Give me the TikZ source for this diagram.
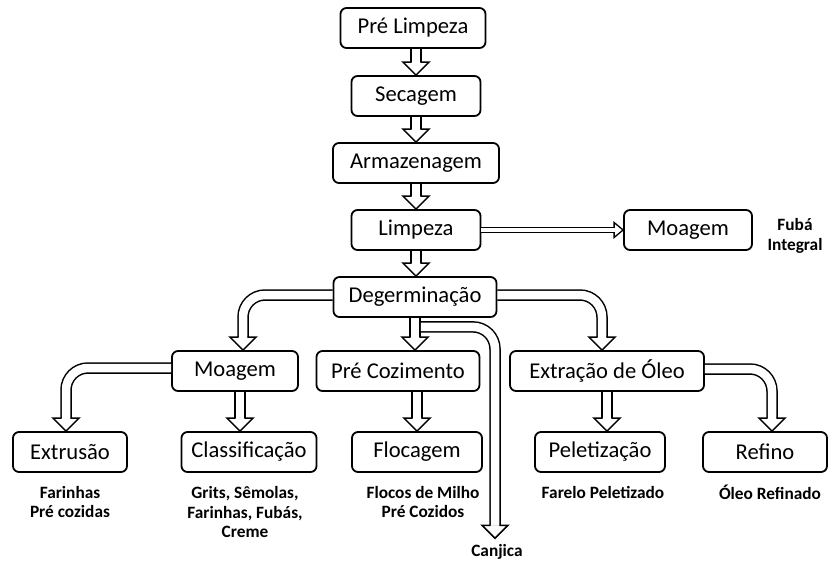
\documentclass[tikz,border=0pt]{standalone}
\usepackage{fontspec}
\setmainfont{Carlito}
\usepackage{tikz}
\usetikzlibrary{calc}
\tikzset{
  box/.style={draw,line width=1.8pt,rounded corners=6pt,minimum height=40pt,inner sep=0pt,font=\fontsize{22.6}{26}\selectfont},
  lbl/.style={font=\bfseries\fontsize{17.3}{19.8}\selectfont,align=center,inner sep=1pt},
  shaft/.style={line width=1.5pt,double=white,double distance=8.5pt,rounded corners=22pt},
  slimshaft/.style={line width=1.3pt,double=white,double distance=4.2pt},
  hd/.style={fill=white,line width=1.5pt}
}
\newcommand{\hdown}[1]{\filldraw[hd] ($(#1)+(-4.3,-13)$) -- ($(#1)+(-13,-13)$) -- (#1) -- ($(#1)+(13,-13)$) -- ($(#1)+(4.3,-13)$);}
\newcommand{\hright}[1]{\filldraw[hd,line width=1.3pt] ($(#1)+(-9,-2.1)$) -- ($(#1)+(-9,-7.5)$) -- (#1) -- ($(#1)+(-9,7.5)$) -- ($(#1)+(-9,2.1)$);}

\begin{document}
\begin{tikzpicture}[x=1pt,y=-1pt]
\useasboundingbox (0,0) rectangle (830,560);
% main line
\node[box,minimum width=145pt] (prelimp) at (413,28) {Pré Limpeza};
\node[box,minimum width=129pt] (secag) at (416,96) {Secagem};
\node[box,minimum width=166pt] (armaz) at (416,163) {Armazenagem};
\node[box,minimum width=129pt] (limpeza) at (416,230) {Limpeza};
\node[box,minimum width=128pt] (moagemR) at (688,230) {Moagem};
\node[box,minimum width=163pt] (degerm) at (415,297) {Degerminação};
% second level
\node[box,minimum width=126pt] (moagemL) at (235,371) {Moagem};
\node[box,minimum width=163pt] (precoz) at (398,371) {Pré Cozimento};
\node[box,minimum width=194pt] (extracao) at (607,371) {Extração de Óleo};
% third level
\node[box,minimum width=114pt] (extrusao) at (70,452) {Extrusão};
\node[box,minimum width=135pt] (classif) at (249,452) {Classificação};
\node[box,minimum width=130pt] (flocag) at (417,452) {Flocagem};
\node[box,minimum width=130pt] (peletiz) at (600,452) {Peletização};
\node[box,minimum width=124pt] (refino) at (765,452) {Refino};
% products
\node[lbl] (fubaLbl) at (795,236) {Fubá\\Integral};
\node[lbl] (farinhasLbl) at (70,502) {Farinhas\\Pré cozidas};
\node[lbl] (gritsLbl) at (245,512) {Grits, Sêmolas,\\Farinhas, Fubás,\\Creme};
\node[lbl] (flocosLbl) at (423,502) {Flocos de Milho\\Pré Cozidos};
\node[lbl] (fareloLbl) at (603,492) {Farelo Peletizado};
\node[lbl] (oleoLbl) at (770,492) {Óleo Refinado};
\node[lbl] (canjica) at (497,552) {Canjica};
% straight arrows
\draw[shaft] (prelimp.south -| secag.north) -- ($(secag.north)+(0,-13)$); \hdown{secag.north}
\draw[shaft] (secag.south) -- ($(armaz.north)+(0,-13)$); \hdown{armaz.north}
\draw[shaft] (armaz.south) -- ($(limpeza.north)+(0,-13)$); \hdown{limpeza.north}
\coordinate (dgT) at (limpeza.south |- degerm.north);
\draw[shaft] (limpeza.south) -- ($(dgT)+(0,-13)$); \hdown{dgT}
\coordinate (pcT) at (degerm.south |- precoz.north);
\draw[shaft] (degerm.south) -- ($(pcT)+(0,-13)$); \hdown{pcT}
\coordinate (clS) at ($(moagemL.south)+(5,0)$);
\coordinate (clT) at (clS |- classif.north);
\draw[shaft] (clS) -- ($(clT)+(0,-13)$); \hdown{clT}
\draw[shaft] (precoz.south -| flocag.north) -- ($(flocag.north)+(0,-13)$); \hdown{flocag.north}
\coordinate (plT) at (extracao.south |- peletiz.north);
\draw[shaft] (extracao.south) -- ($(plT)+(0,-13)$); \hdown{plT}
\draw[slimshaft] (limpeza.east) -- ($(moagemR.west)+(-9,0)$); \hright{moagemR.west}
% curved arrows
\coordinate (mlT) at ($(moagemL.north)+(8,0)$);
\draw[shaft] ($(degerm.west)+(0,-2)$) -| ($(mlT)+(0,-13)$); \hdown{mlT}
\coordinate (exT) at ($(extracao.north)+(-5,0)$);
\draw[shaft] ($(degerm.east)+(0,-2)$) -| ($(exT)+(0,-13)$); \hdown{exT}
\coordinate (cjS) at ($(degerm.south)+(5.75,9)$);
\coordinate (cjT) at ($(canjica.north)+(-2,-5)$);
\draw[shaft] (cjS) -| ($(cjT)+(0,-13)$); \hdown{cjT}
\coordinate (etT) at ($(extrusao.north)+(-4,0)$);
\draw[shaft] ($(moagemL.west)+(0,-3)$) -| ($(etT)+(0,-13)$); \hdown{etT}
\coordinate (rfT) at ($(refino.north)+(7,0)$);
\draw[shaft] ($(extracao.east)+(0,-2)$) -| ($(rfT)+(0,-13)$); \hdown{rfT}
\end{tikzpicture}
\end{document}
